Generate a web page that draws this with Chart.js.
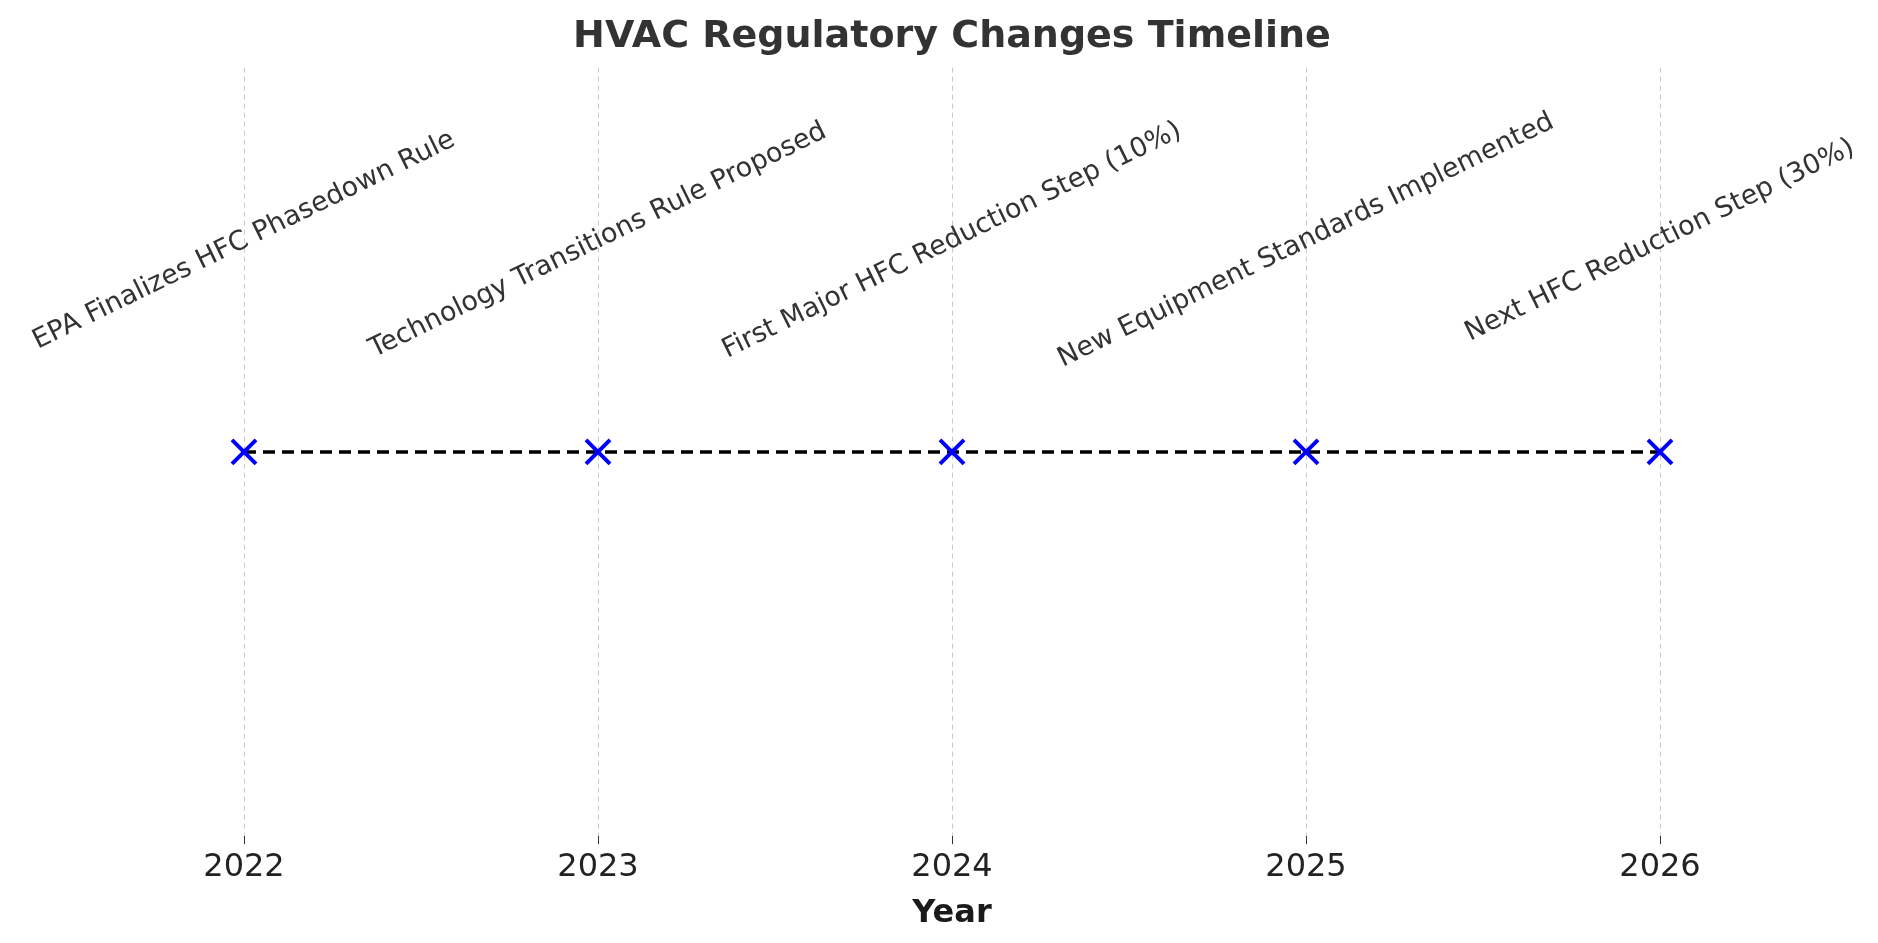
<!DOCTYPE html>
<html>
<head>
<meta charset="utf-8">
<script src="https://cdn.jsdelivr.net/npm/chart.js@4"></script>
<style>
  html, body { margin: 0; padding: 0; background: #fff; }
  #wrap { width: 1878px; height: 943px; }
</style>
</head>
<body>
<div id="wrap"><canvas id="timelineCanvas"></canvas></div>
<script>
let years = [2022, 2023, 2024, 2025, 2026];
let events = [
    "EPA Finalizes HFC Phasedown Rule",
    "Technology Transitions Rule Proposed",
    "First Major HFC Reduction Step (10%)",
    "New Equipment Standards Implemented",
    "Next HFC Reduction Step (30%)"
];
let levels = [0, 0, 0, 0, 0];
let labelLevel = 0.55;

// draws the rotated event names above each marker
let eventLabels = {
    id: 'eventLabels',
    afterDatasetsDraw(chart) {
        let c = chart.ctx;
        let xs = chart.scales.x, ys = chart.scales.y;
        c.save();
        c.font = '27px "DejaVu Sans"';
        c.fillStyle = '#333333';
        c.textAlign = 'center';
        c.textBaseline = 'middle';
        years.forEach((yr, i) => {
            c.save();
            c.translate(xs.getPixelForValue(yr), ys.getPixelForValue(labelLevel));
            c.rotate(-26 * Math.PI / 180);
            c.fillText(events[i], 0, 0);
            c.restore();
        });
        c.restore();
    }
};

let ctx = document.getElementById("timelineCanvas");

new Chart(ctx, {
    type: 'line',
    data: {
        datasets: [{
            data: years.map((y, i) => ({x: y, y: levels[i]})),
            borderColor: '#000000',
            borderWidth: 3.5,
            borderDash: [12, 7],
            pointStyle: 'crossRot',
            pointRadius: 17,
            pointHoverRadius: 17,
            pointBorderColor: '#0000ff',
            pointBorderWidth: 4
        }]
    },
    options: {
        responsive: true,
        maintainAspectRatio: false,
        animation: false,
        layout: { padding: { left: 67, right: 41, top: 0, bottom: 6 } },
        plugins: {
            legend: { display: false },
            tooltip: { enabled: false },
            title: {
                display: true,
                text: 'HVAC Regulatory Changes Timeline',
                color: '#333333',
                font: { family: 'DejaVu Sans', size: 38, weight: 'bold' },
                padding: { top: 14, bottom: 8 }
            }
        },
        scales: {
            x: {
                type: 'linear',
                min: 2021.5,
                max: 2026.5,
                afterBuildTicks: (axis) => { axis.ticks = years.map(v => ({value: v})); },
                ticks: {
                    color: '#222222',
                    font: { family: 'DejaVu Sans', size: 32 },
                    callback: (v) => String(v),
                    padding: 4
                },
                grid: { color: '#c8c8c8', lineWidth: 1, drawTicks: true, tickLength: 8, tickColor: '#333' },
                border: { display: false, dash: [5, 4] },
                title: {
                    display: true,
                    text: 'Year',
                    color: '#1a1a1a',
                    font: { family: 'DejaVu Sans', size: 32, weight: 'bold' },
                    padding: { top: 4 }
                }
            },
            y: {
                display: false,
                min: -1,
                max: 1
            }
        }
    },
    plugins: [eventLabels]
});
</script>
</body>
</html>
